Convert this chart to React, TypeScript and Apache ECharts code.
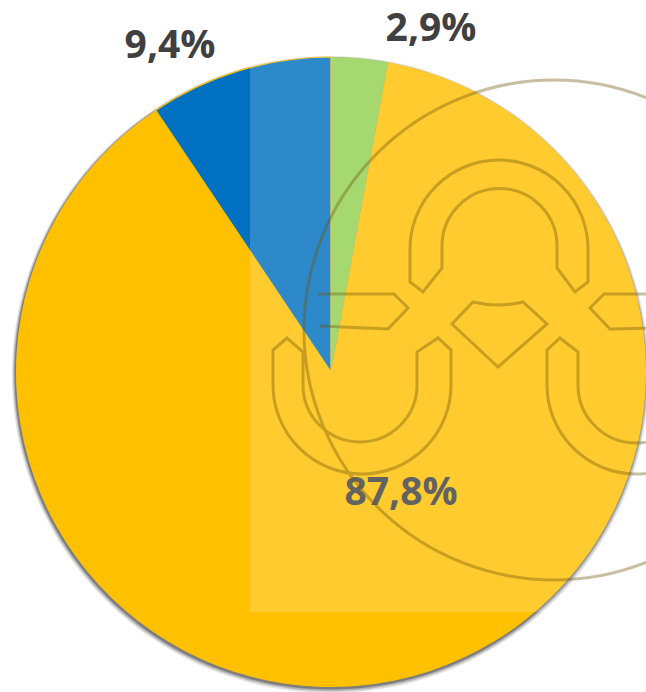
import React, { useEffect, useRef } from "react";
import * as echarts from "echarts";

// ---- data ----
const categories = ["Zöld", "Sárga", "Kék"];
const values = [2.9, 87.8, 9.4];
const sliceColors = ["#92D050", "#FFC000", "#0070C0"];

// ---- layout constants (not data) ----
const CENTER: [number, number] = [331, 372];
const RADIUS = 315;
const LABEL_POS: [number, number][] = [
  [431, 25],
  [401, 489],
  [170, 42],
];

const WATERMARK_D = [
  // big ring
  "M 304 330 A 250 250 0 1 0 804 330 A 250 250 0 1 0 304 330 Z",
  // top lobe
  "M 410 249 A 89 89 0 0 1 588 249 L 588 282 L 575 292 L 557 268 L 557 246 A 57.5 57.5 0 0 0 442 246 L 442 268 L 423 292 L 410 282 Z",
  // left lobe
  "M 273 350 L 273 385 A 89 89 0 0 0 451 385 L 451 350 L 438 338 L 417 352 L 417 385 A 57 57 0 0 1 303 385 L 303 352 L 287 338 Z",
  // right lobe
  "M 725 350 L 725 385 A 89 89 0 0 1 547 385 L 547 350 L 560 338 L 578 352 L 578 385 A 58 58 0 0 0 694 385 L 694 352 L 711 338 Z",
  // center shield
  "M 473 302 Q 498 308 523 302 L 547 324 L 498 367 L 452 324 Z",
  // left arrow
  "M 318 294 L 394 294 L 408 308 L 388 329 L 320 326",
  // right arrow
  "M 700 294 L 604 294 L 590 308 L 610 329 L 700 327",
].join(" ");

let registered = false;
function ensureShapes() {
  if (registered) return;
  echarts.graphic.registerShape(
    "wmLogo",
    echarts.graphic.extendPath(WATERMARK_D, {}) as any
  );
  registered = true;
}

const shadowLayer = (dx: number, dy: number, r: number, alpha: number, z: number) => ({
  type: "pie",
  silent: true,
  z,
  center: [CENTER[0] + dx, CENTER[1] + dy],
  radius: r,
  label: { show: false },
  labelLine: { show: false },
  data: [{ value: 1, itemStyle: { color: `rgba(0,0,0,${alpha})` } }],
});

export default function App() {
  const ref = useRef<HTMLDivElement>(null);

  useEffect(() => {
    if (!ref.current) return;
    ensureShapes();
    const chart = echarts.init(ref.current, null, { renderer: "svg" });
    const option: any = {
      animation: false,
      backgroundColor: "#ffffff",
      series: [
        shadowLayer(-0.5, 2.5, RADIUS + 3.5, 0.12, 0),
        shadowLayer(-0.5, 2, RADIUS + 2.2, 0.2, 0),
        shadowLayer(-0.5, 1.5, RADIUS + 1, 0.3, 1),
        {
          type: "pie",
          z: 2,
          center: CENTER,
          radius: RADIUS,
          startAngle: 90,
          clockwise: true,
          silent: true,
          data: categories.map((name, i) => ({
            name,
            value: values[i],
            itemStyle: {
              color: sliceColors[i],
              borderColor: i === 2 ? "#FFC000" : sliceColors[i],
              borderWidth: i === 2 ? 1.2 : 0,
            },
          })),
          label: {
            show: true,
            position: "inside",
            formatter: (p: any) => p.value.toFixed(1).replace(".", ",") + "%",
            fontFamily: "Open Sans",
            fontWeight: "bold",
            fontSize: 39,
            color: "#404040",
          },
          labelLine: { show: false },
          labelLayout: (params: any) => ({
            x: LABEL_POS[params.dataIndex][0],
            y: LABEL_POS[params.dataIndex][1],
            align: "center",
            verticalAlign: "middle",
          }),
        },
      ],
      graphic: {
        elements: [
          {
            type: "rect",
            z: 100,
            silent: true,
            shape: { x: 250, y: 48, width: 420, height: 564 },
            style: { fill: "rgba(255,255,255,0.18)" },
          },
          {
            type: "wmLogo",
            z: 101,
            silent: true,
            x: 0,
            y: 0,
            style: {
              fill: "none",
              stroke: "rgba(110,85,10,0.38)",
              lineWidth: 3,
            },
          },
        ],
      },
    };
    chart.setOption(option);
    return () => chart.dispose();
  }, []);

  return (
    <div
      ref={ref}
      style={{ position: "fixed", left: 0, top: 0, width: 646, height: 692 }}
    />
  );
}
